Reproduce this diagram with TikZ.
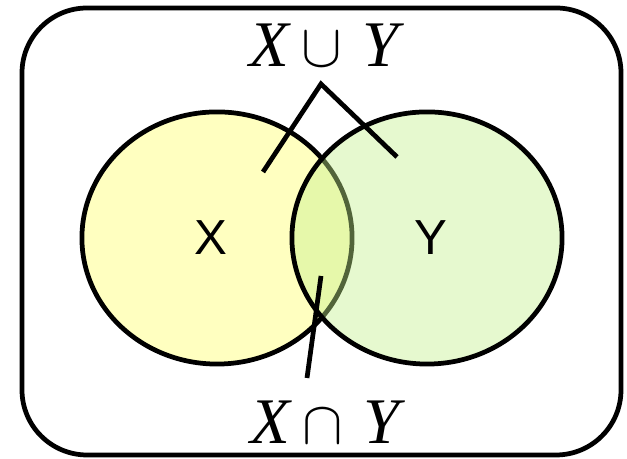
\documentclass[tikz,border=0pt]{standalone}
\usepackage{fontspec}
\newfontfamily\setfont{Liberation Sans}
\newfontfamily\opfont{Liberation Serif}
\usetikzlibrary{shapes.geometric}
\definecolor{setyellow}{HTML}{FFFFC0}
\definecolor{setgreen}{HTML}{C4F08C}

\begin{document}
\begin{tikzpicture}[x=0.01cm,y=-0.01cm,line width=1.35pt,
      setshape/.style={ellipse,draw=black,inner sep=0pt,minimum width=2.7cm,minimum height=2.52cm},
      setname/.style={font=\setfont\fontsize{14}{16}\selectfont},
      oplabel/.style={font=\opfont\fontsize{18.5}{20}\selectfont,inner sep=0pt},
      pointer/.style={line width=1.35pt}]
    \useasboundingbox (0,0) rectangle (627,459);
    \draw[rounded corners=0.65cm] (22,8) rectangle (621,455);
    \node[setshape,fill=setyellow] (setX) at (217,238) {};
    \node[setshape,fill=setgreen,fill opacity=0.42] (setY) at (427,238) {};
    \node[setname] (nameX) at (211,238) {X};
    \node[setname] (nameY) at (431,238) {Y};
    \node[oplabel] (union) at (324,45) {\itshape X\hspace{3.5pt}$\cup$\hspace{6pt}Y};
    \node[oplabel] (inter) at (325,422) {\itshape X\hspace{3.5pt}$\cap$\hspace{6pt}Y};
    \coordinate (apex) at (321,84);
    \coordinate (inX) at (263,172);
    \coordinate (inY) at (397,157);
    \coordinate (inXY) at (321,276);
    \coordinate (interTop) at (307,378);
    \draw[pointer] (inX) -- (apex) -- (inY);
    \draw[pointer] (inXY) -- (interTop);
  \end{tikzpicture}
\end{document}
